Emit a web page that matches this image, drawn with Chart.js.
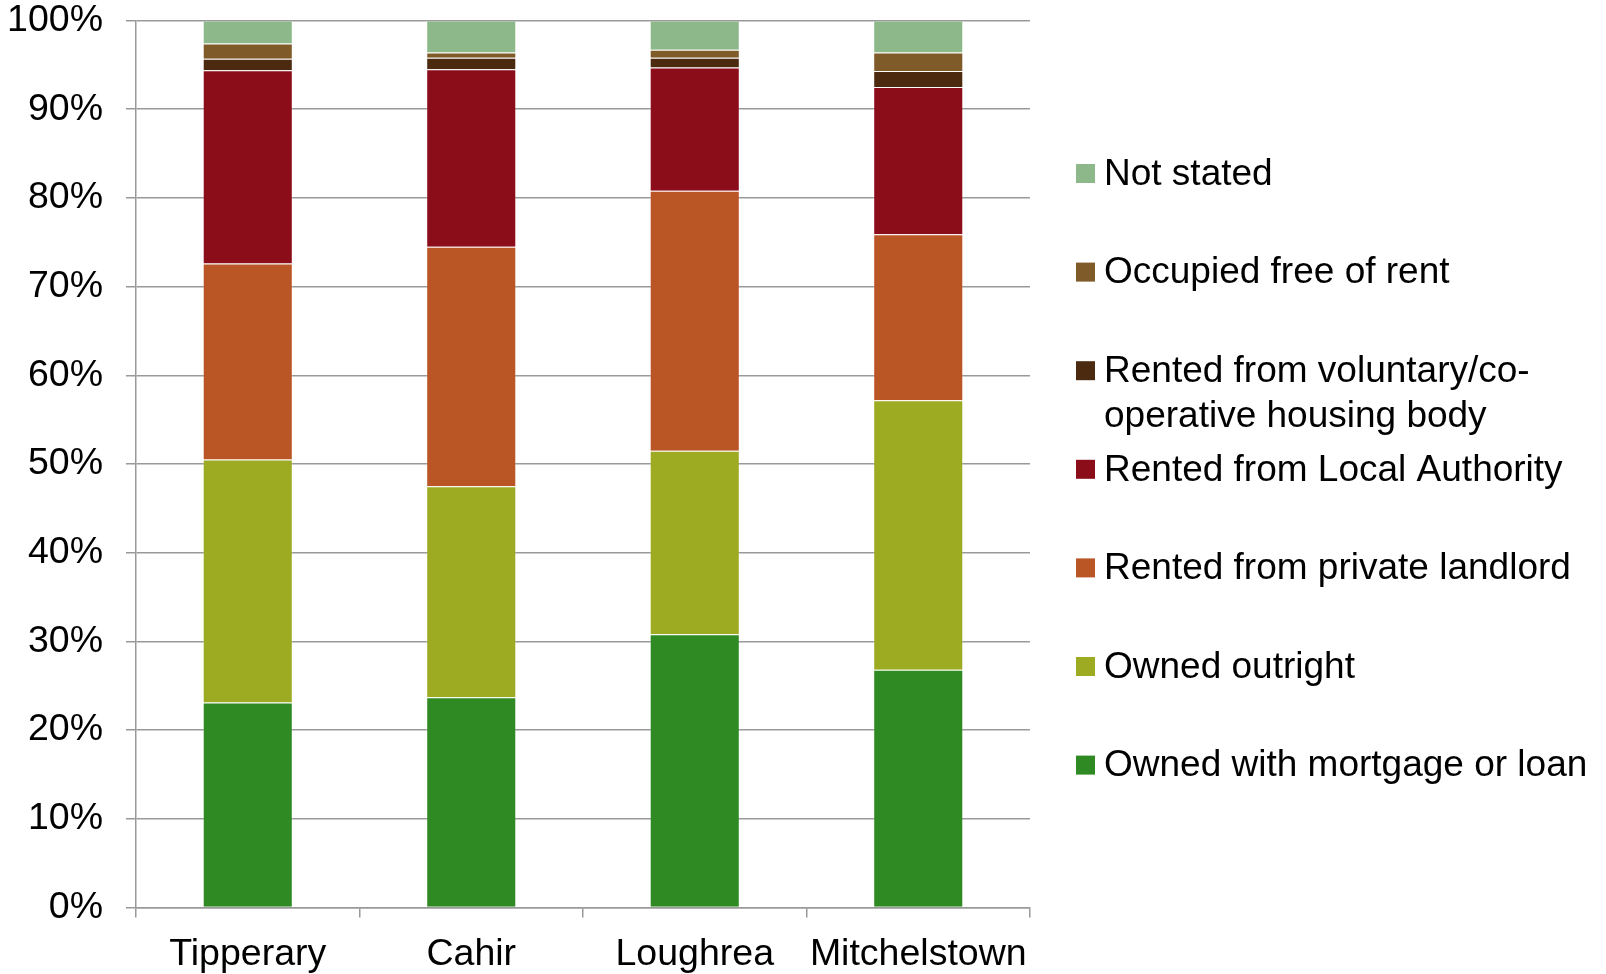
<!DOCTYPE html>
<html>
<head>
<meta charset="utf-8">
<script src="https://cdn.jsdelivr.net/npm/chart.js@4/dist/chart.umd.min.js"></script>
<style>
html,body{margin:0;padding:0;background:#fff;}
#wrap{position:relative;width:1606px;height:974px;}
</style>
</head>
<body>
<div id="wrap"><canvas id="c" width="1606" height="974"></canvas></div>
<script>
const categories = ["Tipperary", "Cahir", "Loughrea", "Mitchelstown"];
const yTicks = [0, 10, 20, 30, 40, 50, 60, 70, 80, 90, 100];

const ownedMortgage   = [23.1, 23.7, 30.8, 26.8];
const ownedOutright   = [27.4, 23.8, 20.7, 30.4];
const rentedPrivate   = [22.1, 27.0, 29.3, 18.7];
const rentedLA        = [21.8, 20.0, 13.9, 16.6];
const rentedVoluntary = [1.3, 1.3, 1.1, 1.8];
const freeOfRent      = [1.7, 0.6, 0.9, 2.1];
const notStated       = [2.6, 3.6, 3.3, 3.6];

const seriesNames = [
  "Owned with mortgage or loan",
  "Owned outright",
  "Rented from private landlord",
  "Rented from Local Authority",
  ["Rented from voluntary/co-", "operative housing body"],
  "Occupied free of rent",
  "Not stated"
];
const seriesValues = [ownedMortgage, ownedOutright, rentedPrivate, rentedLA, rentedVoluntary, freeOfRent, notStated];
const seriesColors = ["#2F8A24", "#9CAB21", "#BA5526", "#8B0D1A", "#4B2A10", "#7F5B2A", "#8DB88A"];

const FONT = '"Liberation Sans", Arial, Helvetica, sans-serif';

const legendPlugin = {
  id: 'sideLegend',
  afterDraw(chart) {
    const ctx = chart.ctx;
    const ds = chart.data.datasets;
    const x0 = 1076, firstY = 173.5, step = 98.6, sw = 19, textX = 1104, lineGap = 45;
    ctx.save();
    ctx.font = '37px ' + FONT;
    ctx.textBaseline = 'middle';
    ctx.textAlign = 'left';
    for (let k = 0; k < ds.length; k++) {
      const d = ds[ds.length - 1 - k];
      const y = firstY + k * step;
      ctx.fillStyle = d.backgroundColor;
      ctx.fillRect(x0, y - sw / 2, sw, sw);
      ctx.fillStyle = '#000';
      const lines = Array.isArray(d.label) ? d.label : [d.label];
      lines.forEach((t, i) => ctx.fillText(t, textX, y + i * lineGap + 1));
    }
    ctx.restore();
  }
};

new Chart(document.getElementById('c'), {
  type: 'bar',
  data: {
    labels: categories,
    datasets: seriesValues.map((v, i) => ({
      label: seriesNames[i],
      data: v,
      backgroundColor: seriesColors[i],
      borderColor: 'rgba(255,255,255,0.18)',
      borderWidth: 1,
      barPercentage: 0.403,
      categoryPercentage: 1.0
    }))
  },
  options: {
    responsive: false,
    animation: false,
    devicePixelRatio: 1,
    layout: { padding: { left: 0, right: 576, top: 20.5, bottom: 0 } },
    plugins: { legend: { display: false }, tooltip: { enabled: false } },
    scales: {
      x: {
        stacked: true,
        afterFit(axis) { axis.height = 66.5; axis.paddingLeft = 0; axis.paddingRight = 0; axis.paddingTop = 0; axis.paddingBottom = 0; },
        grid: { display: true, drawOnChartArea: false, drawTicks: true, tickLength: 10, color: '#999', lineWidth: 1.5, offset: true },
        border: { display: true, color: '#999', width: 1.5 },
        ticks: { color: '#000', font: { family: FONT, size: 37.5, lineHeight: 1.0 }, padding: 18, maxRotation: 0 }
      },
      y: {
        stacked: true,
        min: 0, max: 100,
        afterBuildTicks(axis) { axis.ticks = yTicks.map(v => ({ value: v })); },
        afterFit(axis) { axis.width = 136; axis.paddingTop = 0; axis.paddingBottom = 0; axis.paddingLeft = 0; axis.paddingRight = 0; },
        grid: { color: '#999', lineWidth: 1.5, tickLength: 10 },
        border: { display: true, color: '#999', width: 1.5 },
        ticks: { color: '#000', font: { family: FONT, size: 37.5 }, padding: 23, callback: v => v + '%' }
      }
    }
  },
  plugins: [legendPlugin]
});
</script>
</body>
</html>
